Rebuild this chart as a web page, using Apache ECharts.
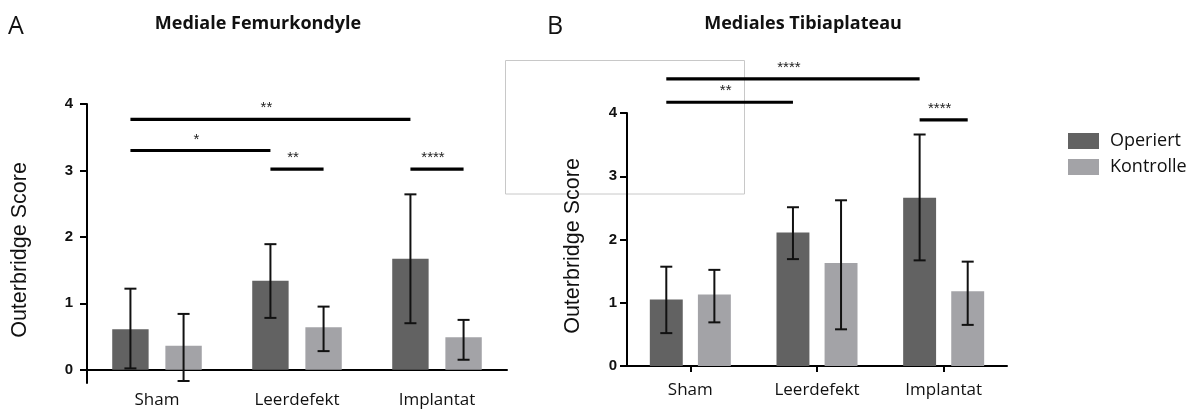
<!DOCTYPE html>
<html>
<head>
<meta charset="utf-8">
<script src="https://cdn.jsdelivr.net/npm/echarts@6/dist/echarts.min.js"></script>
<style>
html,body{margin:0;padding:0;background:#fff;}
#chart{width:1196px;height:410px;}
</style>
</head>
<body>
<div id="chart"></div>
<script>
const categories = ['Sham', 'Leerdefekt', 'Implantat'];
const yTicks = [0, 1, 2, 3, 4];

// A: Mediale Femurkondyle
const femurOperiert = [0.61, 1.34, 1.67];
const femurOperiertLow = [0.02, 0.78, 0.70];
const femurOperiertHigh = [1.22, 1.89, 2.64];
const femurKontrolle = [0.36, 0.64, 0.49];
const femurKontrolleLow = [-0.17, 0.28, 0.15];
const femurKontrolleHigh = [0.84, 0.95, 0.75];
// [fromCategory, fromSide(-1 Operiert / 1 Kontrolle), toCategory, toSide, y, label]
const femurSig = [
  [0, -1, 2, -1, 3.77, '**'],
  [0, -1, 1, -1, 3.30, '*'],
  [1, -1, 1, 1, 3.02, '**'],
  [2, -1, 2, 1, 3.02, '****']
];

// B: Mediales Tibiaplateau
const tibiaOperiert = [1.05, 2.11, 2.66];
const tibiaOperiertLow = [0.52, 1.69, 1.67];
const tibiaOperiertHigh = [1.57, 2.51, 3.66];
const tibiaKontrolle = [1.13, 1.63, 1.18];
const tibiaKontrolleLow = [0.69, 0.58, 0.65];
const tibiaKontrolleHigh = [1.52, 2.62, 1.65];
const tibiaSig = [
  [0, -1, 2, -1, 4.54, '****'],
  [0, -1, 1, -1, 4.17, '**'],
  [2, -1, 2, 1, 3.89, '****']
];

const colorOp = '#626262';
const colorKo = '#a3a3a7';
const BAR_W = 0.26, BAR_GAP = 0.46;
const sideOffset = (band) => band * BAR_W * (1 + BAR_GAP) / 2;
const UI_FONT = '"Open Sans", Lato, sans-serif';
const AX_FONT = '"Liberation Sans", Arial, sans-serif';

function errorSeries(name, low, high, side, idx) {
  return {
    type: 'custom', name: name + ' err', xAxisIndex: idx, yAxisIndex: idx, z: 5,
    silent: true, legendHoverLink: false,
    data: categories.map((c, i) => [i, low[i], high[i]]),
    encode: { x: 0, y: [1, 2] },
    renderItem: function (params, api) {
      const cat = api.value(0);
      const lo = api.coord([cat, api.value(1)]);
      const hi = api.coord([cat, api.value(2)]);
      const band = api.size([1, 0])[0];
      const x = lo[0] + side * sideOffset(band);
      const cw = 6;
      const st = { stroke: '#111', lineWidth: 2 };
      return { type: 'group', children: [
        { type: 'line', shape: { x1: x, y1: lo[1], x2: x, y2: hi[1] }, style: st },
        { type: 'line', shape: { x1: x - cw, y1: hi[1], x2: x + cw, y2: hi[1] }, style: st },
        { type: 'line', shape: { x1: x - cw, y1: lo[1], x2: x + cw, y2: lo[1] }, style: st }
      ]};
    }
  };
}

function sigSeries(sig, idx) {
  return {
    type: 'custom', name: 'sig' + idx, xAxisIndex: idx, yAxisIndex: idx, z: 6,
    silent: true, clip: false,
    data: sig.map(s => [s[0], s[2], s[4]]),
    encode: { x: [0, 1], y: 2 },
    renderItem: function (params, api) {
      const s = sig[params.dataIndex];
      const a = api.coord([api.value(0), api.value(2)]);
      const b = api.coord([api.value(1), api.value(2)]);
      const band = api.size([1, 0])[0];
      const x1 = a[0] + s[1] * sideOffset(band);
      const x2 = b[0] + s[3] * sideOffset(band);
      return { type: 'group', children: [
        { type: 'line', shape: { x1: x1, y1: a[1], x2: x2, y2: a[1] }, style: { stroke: '#000', lineWidth: 3.2 } },
        { type: 'text', x: (x1 + x2) / 2 - 4, y: a[1] - 11, style: {
          text: s[5], align: 'center', verticalAlign: 'middle',
          font: '15px ' + AX_FONT, fill: '#222' } }
      ]};
    }
  };
}

function barSeries(name, values, color, idx) {
  return {
    type: 'bar', name: name, xAxisIndex: idx, yAxisIndex: idx,
    data: values, barWidth: (BAR_W * 100) + '%', barGap: (BAR_GAP * 100) + '%',
    itemStyle: { color: color }, silent: true, z: 2
  };
}

const axisLineStyle = { color: '#000', width: 2 };
function yAxisCfg(idx, min, margin, nameGap, pad) {
  return {
    type: 'value', gridIndex: idx, min: min, max: 4,
    name: 'Outerbridge Score', nameLocation: 'middle', nameGap: nameGap,
    nameTextStyle: { fontFamily: AX_FONT, fontSize: 21.5, color: '#111', padding: [0, pad, 0, 0] },
    axisLine: { show: true, lineStyle: axisLineStyle },
    axisTick: { show: true, length: 7, lineStyle: axisLineStyle, customValues: yTicks },
    axisLabel: { customValues: yTicks, margin: margin, fontFamily: AX_FONT,
      fontWeight: 'bold', fontSize: 15, color: '#111' },
    splitLine: { show: false }
  };
}

const chart = echarts.init(document.getElementById('chart'), null, { renderer: 'canvas' });
chart.setOption({
  animation: false,
  backgroundColor: '#fff',
  grid: [
    { left: 87, top: 104, width: 420, height: 279, outerBoundsMode: 'none', containLabel: false },
    { left: 627, top: 113, width: 380, height: 253, outerBoundsMode: 'none', containLabel: false }
  ],
  xAxis: [
    { type: 'category', gridIndex: 0, data: categories,
      axisLine: { show: true, onZero: true, lineStyle: axisLineStyle },
      axisTick: { show: false },
      axisLabel: { margin: 9, fontFamily: UI_FONT, fontSize: 17, color: '#111' } },
    { type: 'category', gridIndex: 1, data: categories,
      axisLine: { show: true, lineStyle: axisLineStyle },
      axisTick: { show: true, alignWithLabel: true, length: 6, lineStyle: axisLineStyle },
      axisLabel: { margin: 16, fontFamily: UI_FONT, fontSize: 17, color: '#111' } }
  ],
  yAxis: [ yAxisCfg(0, -0.2, 14, 56, 13), yAxisCfg(1, 0, 10, 43, 13) ],
  legend: {
    orient: 'vertical', left: 1063, top: 127, itemWidth: 31, itemHeight: 16, itemGap: 8,
    icon: 'rect', data: ['Operiert', 'Kontrolle'],
    textStyle: { fontFamily: UI_FONT, fontSize: 18, color: '#111', padding: [0, 0, 0, 6] }
  },
  graphic: [
    { type: 'rect', z: -10, shape: { x: 505.5, y: 60.5, width: 239, height: 133.5 },
      style: { fill: 'none', stroke: '#c8c8c8', lineWidth: 1 } },
    { type: 'text', x: 8, y: 27, style: { text: 'A', align: 'left', verticalAlign: 'middle',
      font: '25px ' + UI_FONT, fill: '#111' } },
    { type: 'text', x: 547, y: 27, style: { text: 'B', align: 'left', verticalAlign: 'middle',
      font: '25px ' + UI_FONT, fill: '#111' } },
    { type: 'text', x: 258, y: 24, style: { text: 'Mediale Femurkondyle', align: 'center', verticalAlign: 'middle',
      font: 'bold 18px ' + UI_FONT, fill: '#111' } },
    { type: 'text', x: 803, y: 24, style: { text: 'Mediales Tibiaplateau', align: 'center', verticalAlign: 'middle',
      font: 'bold 18px ' + UI_FONT, fill: '#111' } }
  ],
  series: [
    barSeries('Operiert', femurOperiert, colorOp, 0),
    barSeries('Kontrolle', femurKontrolle, colorKo, 0),
    barSeries('Operiert', tibiaOperiert, colorOp, 1),
    barSeries('Kontrolle', tibiaKontrolle, colorKo, 1),
    errorSeries('Operiert', femurOperiertLow, femurOperiertHigh, -1, 0),
    errorSeries('Kontrolle', femurKontrolleLow, femurKontrolleHigh, 1, 0),
    errorSeries('Operiert', tibiaOperiertLow, tibiaOperiertHigh, -1, 1),
    errorSeries('Kontrolle', tibiaKontrolleLow, tibiaKontrolleHigh, 1, 1),
    sigSeries(femurSig, 0),
    sigSeries(tibiaSig, 1)
  ]
});
</script>
</body>
</html>
